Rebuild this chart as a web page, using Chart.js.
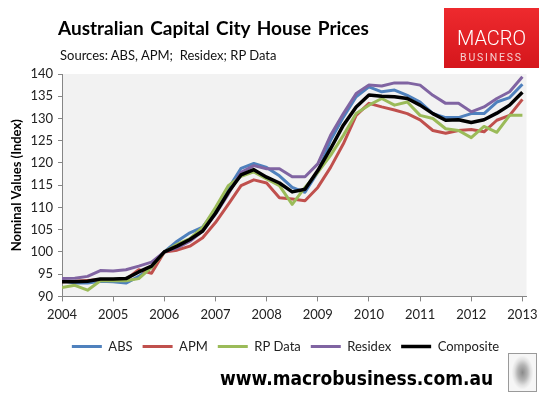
<!DOCTYPE html>
<html>
<head>
<meta charset="utf-8">
<script src="https://cdn.jsdelivr.net/npm/chart.js@4.4.0/dist/chart.umd.min.js"></script>
<style>
  body { margin: 0; background: #fff; }
  #wrap { position: relative; width: 547px; height: 395px; overflow: hidden; }
  #chart { position: absolute; left: 0; top: 0; }
  .txt { position: absolute; white-space: pre; }
  #title { left: 58px; top: 16px; font: bold 19px Lato, sans-serif; line-height: 24px; word-spacing: 2px; color: #000; }
  #sub { left: 60px; top: 47px; font: 13px Lato, sans-serif; line-height: 17px; color: #111; }
  #logo { position: absolute; left: 444px; top: 8px; width: 95px; height: 60px;
          background: linear-gradient(#ee2a2e, #d5161c); }
  #logo .m { position: absolute; left: 0; width: 95px; top: 19px; text-align: center;
             font: 300 20px Roboto, sans-serif; line-height: 22px; color: #fff; }
  #logo .b { position: absolute; left: 0; width: 95px; top: 43px; text-align: center;
             font: 10.5px Roboto, sans-serif; letter-spacing: 1.8px; line-height: 14px; color: #f6cfd0; }
  #url { left: 220px; top: 366px; font: bold 19px 'DejaVu Sans Condensed', 'DejaVu Sans', sans-serif;
         font-stretch: condensed; line-height: 24px; color: #000; transform-origin: left center; }
  #wolf { position: absolute; left: 508px; top: 353px; width: 27px; height: 37px; border: 1px solid #9a9a9a;
          background: radial-gradient(ellipse 40% 46% at 50% 50%, #8a8a8a 0%, #b4b4b4 45%, #e0e0e0 75%, #f6f6f6 100%); }
</style>
</head>
<body>
<div id="wrap">
  <canvas id="chart" width="547" height="395"></canvas>
  <div class="txt" id="title">Australian Capital City House Prices</div>
  <div class="txt" id="sub">Sources: ABS, APM;  Residex; RP Data</div>
  <div id="logo"><div class="m">MACRO</div><div class="b">BUSINESS</div></div>
  <div class="txt" id="url">www.macrobusiness.com.au</div>
  <div id="wolf"></div>
</div>
<script>
// quarterly index, 2006 Q1 = 100
const firstYear = 2004;
const yearTicks = [2004, 2005, 2006, 2007, 2008, 2009, 2010, 2011, 2012, 2013];

const quarters = [];
for (let y = 2004; y <= 2013; y++) {
  for (let q = 1; q <= 4; q++) {
    if (y === 2013 && q > 1) break;
    quarters.push(y + ' Q' + q);
  }
}

const abs = [93.5, 93.0, 93.0, 93.4, 93.3, 93.0, 94.5, 96.5, 100.0, 102.4, 104.3, 105.6, 109.4, 114.2, 118.8, 119.9,
  119.0, 117.1, 114.5, 113.4, 117.9, 125.1, 130.3, 134.9, 137.1, 136.0, 136.4, 135.2, 133.7, 131.1, 130.2, 130.2,
  131.1, 131.1, 133.7, 134.7, 137.7];
const apm = [93.3, 93.4, 93.6, 93.8, 93.8, 93.8, 96.0, 95.2, 100.0, 100.4, 101.3, 103.2, 106.6, 110.7, 114.9, 116.2,
  115.5, 112.2, 111.9, 111.5, 114.5, 119.0, 124.3, 130.7, 133.4, 132.6, 131.9, 131.1, 129.7, 127.3, 126.7, 127.3,
  127.5, 127.0, 129.6, 130.7, 134.3];
const rpData = [92.0, 92.5, 91.4, 93.5, 93.6, 93.5, 94.0, 96.5, 100.0, 101.7, 103.0, 105.5, 110.0, 114.9, 117.0, 118.0,
  116.4, 114.9, 110.7, 114.5, 117.9, 121.7, 126.2, 131.1, 133.0, 134.5, 133.0, 133.7, 130.7, 130.0, 127.7, 127.3,
  125.7, 128.2, 126.9, 130.7, 130.7];
const residex = [94.0, 94.1, 94.5, 95.8, 95.7, 96.0, 96.8, 97.7, 100.0, 100.9, 102.4, 104.7, 108.5, 113.0, 117.9, 119.4,
  118.7, 118.7, 116.9, 116.9, 119.8, 126.2, 131.1, 135.6, 137.5, 137.3, 138.0, 138.0, 137.5, 135.2, 133.4, 133.4,
  131.5, 132.6, 134.5, 136.0, 139.4];
const composite = [93.3, 93.3, 93.4, 93.9, 93.9, 94.0, 95.5, 96.8, 100.0, 101.3, 102.8, 104.7, 108.7, 113.4, 117.3, 118.5,
  116.8, 115.5, 113.5, 114.1, 118.3, 123.2, 128.5, 132.6, 135.3, 135.0, 134.9, 134.5, 133.0, 131.1, 129.6, 129.7,
  129.1, 129.7, 131.2, 133.0, 135.9];

const quarterX = quarters.map(s => parseInt(s) + (parseInt(s.split('Q')[1]) - 1) / 4);
const pts = arr => arr.map((v, i) => ({ x: quarterX[i], y: v }));

function series(label, values, color, width, order) {
  return {
    label: label,
    data: pts(values),
    borderColor: color,
    backgroundColor: color,
    borderWidth: width,
    pointBorderWidth: width,
    pointRadius: 0,
    pointHoverRadius: 0,
    tension: 0,
    borderJoinStyle: 'round',
    fill: false,
    order: order
  };
}

const fontFam = 'Lato, sans-serif';

// grey plot background
const plotBg = {
  id: 'plotBg',
  beforeDraw(chart) {
    const a = chart.chartArea, c = chart.ctx;
    c.save();
    c.fillStyle = '#f2f2f2';
    c.fillRect(a.left, a.top, a.right - a.left, a.bottom - a.top);
    c.restore();
  }
};

// put the legend where the original has it
const legendPlace = {
  id: 'legendPlace',
  afterLayout(chart) {
    const lg = chart.legend;
    const dx = 285.5 - (lg.left + lg.right) / 2;
    const dy = (346.5 - 10 - 6.5) - lg.top;
    lg.left += dx; lg.right += dx;
    lg.top += dy; lg.bottom += dy;
  }
};

const ctx = document.getElementById('chart');
const myChart = new Chart(ctx, {
  type: 'line',
  data: {
    datasets: [
      series('ABS', abs, '#4f81bd', 3, 5),
      series('APM', apm, '#c0504d', 3, 4),
      series('RP Data', rpData, '#9bbb59', 3, 3),
      series('Residex', residex, '#8064a2', 3, 2),
      series('Composite', composite, '#000000', 3.5, 1)
    ]
  },
  options: {
    responsive: false,
    animation: false,
    devicePixelRatio: 1,
    layout: { padding: { left: 8, right: 20.5, top: 74, bottom: 33 } },
    plugins: {
      tooltip: { enabled: false },
      legend: {
        position: 'bottom',
        labels: {
          usePointStyle: true,
          pointStyle: 'line',
          pointStyleWidth: 30,
          padding: 10,
          color: '#222',
          font: { family: fontFam, size: 13 },
          sort: (a, b) => a.datasetIndex - b.datasetIndex
        }
      }
    },
    scales: {
      x: {
        type: 'linear',
        min: firstYear,
        max: 2013.08,
        afterBuildTicks: axis => { axis.ticks = yearTicks.map(v => ({ value: v })); },
        grid: { drawOnChartArea: false, drawTicks: true, tickLength: 5, color: '#868686' },
        border: { color: '#868686' },
        ticks: { color: '#222', padding: 6, maxRotation: 0, font: { family: fontFam, size: 13 },
                 callback: v => String(v) }
      },
      y: {
        min: 90,
        max: 140,
        afterFit: axis => { axis.width = 54; },
        grid: { drawOnChartArea: false, drawTicks: true, tickLength: 4, color: '#868686' },
        border: { color: '#868686' },
        ticks: { stepSize: 5, color: '#222', padding: 5, font: { family: fontFam, size: 13 } },
        title: { display: true, text: 'Nominal Values (Index)', color: '#000',
                 padding: { top: 1, bottom: 0 }, font: { family: fontFam, size: 13, weight: 'bold' } }
      }
    }
  },
  plugins: [plotBg, legendPlace]
});

// squeeze the site address to its width in the original
const url = document.getElementById('url');
url.style.transform = 'scaleX(' + (273 / url.offsetWidth) + ')';
</script>
</body>
</html>
